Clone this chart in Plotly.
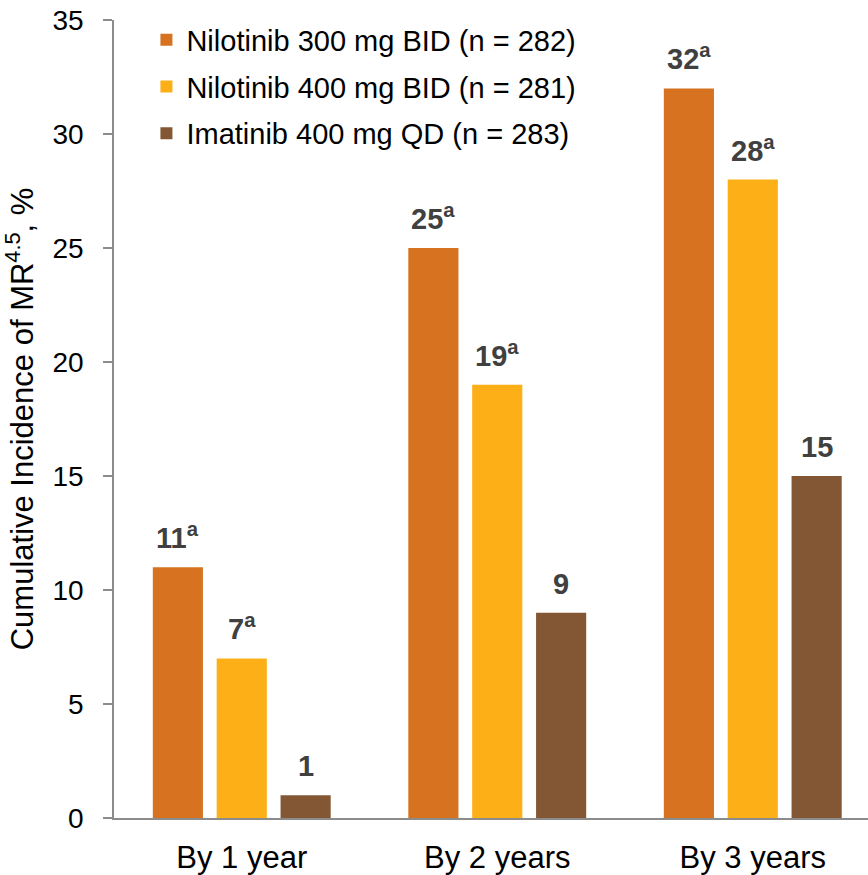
import plotly.graph_objects as go

# Cumulative incidence of MR4.5 by time point and treatment arm
categories = ["By 1 year", "By 2 years", "By 3 years"]
series_names = [
    "Nilotinib 300 mg BID (n = 282)",
    "Nilotinib 400 mg BID (n = 281)",
    "Imatinib 400 mg QD (n = 283)",
]
nilo300 = [11, 25, 32]
nilo400 = [7, 19, 28]
imatinib = [1, 9, 15]
# superscript flag per bar (significance marker)
nilo300_sig = ["a", "a", "a"]
nilo400_sig = ["a", "a", "a"]
imatinib_sig = ["", "", ""]

colors = ["#D67220", "#FCAF17", "#835733"]
all_values = [nilo300, nilo400, imatinib]
all_sig = [nilo300_sig, nilo400_sig, imatinib_sig]

FONT = "Liberation Sans, Arial, sans-serif"

fig = go.Figure()
for i, (name, vals, col) in enumerate(zip(series_names, all_values, colors)):
    fig.add_trace(go.Bar(
        x=categories, y=vals, name=name,
        marker=dict(color=col, line=dict(width=0)),
        legendgroup=f"g{i}",
    ))

# value labels above bars
offsets = [-64, 0, 64]
annotations = []
for vals, sigs, dx in zip(all_values, all_sig, offsets):
    for cat, v, s in zip(categories, vals, sigs):
        txt = f"<b>{v}</b>" + (f"<b><sup>{s}</sup></b>" if s else "")
        annotations.append(dict(
            x=cat, y=v, xref="x", yref="y", text=txt, showarrow=False,
            xanchor="center", yanchor="bottom", xshift=dx, yshift=11,
            font=dict(family=FONT, size=29, color="#404040"),
        ))

fig.update_layout(
    width=868, height=875,
    margin=dict(l=114, r=0, t=20, b=57),
    paper_bgcolor="white", plot_bgcolor="white",
    barmode="group", bargap=0.25, bargroupgap=0.215,
    font=dict(family=FONT, color="#000000"),
    showlegend=True,
    legend=dict(
        x=0.043, y=1.007, xanchor="left", yanchor="top",
        font=dict(family=FONT, size=29, color="#000000"),
        traceorder="grouped", tracegroupgap=6,
        bgcolor="rgba(0,0,0,0)",
    ),
    annotations=annotations,
    xaxis=dict(
        range=[-0.5, 2.451], showline=True, linecolor="#8C8C8C", linewidth=1.5,
        ticks="", showgrid=False, tickfont=dict(family=FONT, size=31, color="#000000"),
        ticklabelstandoff=11,
    ),
    yaxis=dict(
        range=[0, 35], dtick=5, showline=True, linecolor="#8C8C8C", linewidth=1.5,
        ticks="outside", ticklen=9, tickcolor="#8C8C8C", tickwidth=1.5,
        showgrid=False, zeroline=False,
        tickfont=dict(family=FONT, size=28, color="#000000"),
        ticklabelstandoff=14,
        title=dict(text="Cumulative Incidence of MR<sup>4.5</sup>, %",
                   font=dict(family=FONT, size=31, color="#000000"), standoff=12),
    ),
)

fig.write_html("out.html")
